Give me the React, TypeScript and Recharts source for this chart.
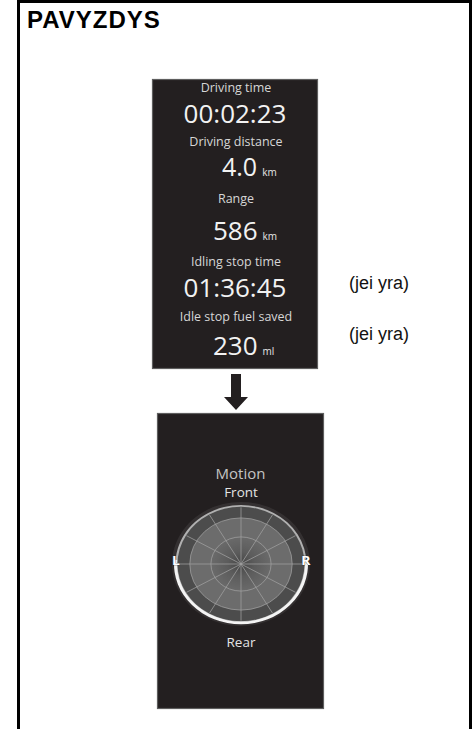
import { PieChart, Pie, RadarChart, PolarGrid, PolarAngleAxis } from 'recharts';

// trip computer page
const tripLabels = ['Driving time', 'Driving distance', 'Range', 'Idling stop time', 'Idle stop fuel saved'];
const tripValues = ['00:02:23', '4.0', '586', '01:36:45', '230'];
const tripUnits = ['', 'km', 'km', '', 'ml'];
const tripNotes = ['', '', '', '(jei yra)', '(jei yra)'];

// motion page: 12 spoke directions (clockwise from front), labels only on the 4 main ones
const motionAngles = ['0', '30', '60', '90', '120', '150', '180', '210', '240', '270', '300', '330'];
const motionDirections = ['Front', '', '', 'R', '', '', 'Rear', '', '', 'L', '', ''];
// ring levels as share of the full scale
const motionLevels = [0.47, 0.8, 1];

const OUTER = 64;
const SIZE = 200;
const C = SIZE / 2;

const labelY = [92, 145.5, 203, 266, 321];
const valueY = [123, 176, 240, 297, 355];

const renderMotionTick = (props: any) => {
  const idx = motionAngles.indexOf(String(props.payload?.value));
  const value = motionDirections[idx];
  if (!value) return <g />;
  let x = C;
  let y = C;
  if (value === 'Front') y = C - 74;
  if (value === 'Rear') y = C + 92;
  if (value === 'L') { x = C - OUTER - 1; y = C + 1; }
  if (value === 'R') { x = C + OUTER + 1; y = C + 1; }
  const small = value === 'L' || value === 'R';
  return (
    <text
      x={x}
      y={y}
      textAnchor="middle"
      fill={small ? '#ffffff' : '#e4e4e4'}
      stroke={small ? '#2a2a2a' : 'none'}
      strokeWidth={small ? 0.6 : 0}
      paintOrder="stroke"
      fontSize={small ? 14 : 13.5}
      fontWeight={small ? 700 : 500}
      fontFamily='"Open Sans", sans-serif'
    >
      {value}
    </text>
  );
};

function MotionChart() {
  const radarData = motionAngles.map((a) => ({ dir: a, v: 1 }));
  const radii = motionLevels.map((l) => l * OUTER);
  const one = [{ value: 1 }];
  return (
    <div
      style={{
        position: 'absolute',
        left: 241 - C,
        top: 564 - C,
        width: SIZE,
        height: SIZE,
        transform: 'scaleY(0.9)',
        transformOrigin: '50% 50%',
      }}
    >
      <div style={{ position: 'absolute', left: 0, top: 0 }}>
        <PieChart width={SIZE} height={SIZE} margin={{ top: 0, right: 0, bottom: 0, left: 0 }}>
          <defs>
            <radialGradient id="core" cx="50%" cy="50%" r="50%">
              <stop offset="0%" stopColor="#454545" />
              <stop offset="45%" stopColor="#5c5c5c" />
              <stop offset="100%" stopColor="#6a6a6a" />
            </radialGradient>
          </defs>
          <Pie data={one} dataKey="value" cx={C} cy={C} innerRadius={OUTER} outerRadius={OUTER + 5} fill="#ffffff" fillOpacity={0.08} stroke="none" isAnimationActive={false} />
          <Pie data={one} dataKey="value" cx={C} cy={C} innerRadius={0} outerRadius={radii[2]} fill="#4c4c4c" stroke="none" isAnimationActive={false} />
          <Pie data={one} dataKey="value" cx={C} cy={C} innerRadius={0} outerRadius={radii[1]} fill="#6c6c6c" stroke="none" isAnimationActive={false} />
          <Pie data={one} dataKey="value" cx={C} cy={C} innerRadius={0} outerRadius={radii[0]} fill="url(#core)" stroke="none" isAnimationActive={false} />
          <Pie data={one} dataKey="value" cx={C} cy={C} innerRadius={OUTER - 0.5} outerRadius={OUTER + 1.5} fill="#b0b0b0" stroke="none" isAnimationActive={false} />
          <Pie data={one} dataKey="value" cx={C} cy={C} startAngle={176} endAngle={364} innerRadius={OUTER} outerRadius={OUTER + 3} fill="#f4f4f4" stroke="none" isAnimationActive={false} />
        </PieChart>
      </div>
      <div style={{ position: 'absolute', left: 0, top: 0 }}>
        <RadarChart
          width={SIZE}
          height={SIZE}
          data={radarData}
          cx={C}
          cy={C}
          outerRadius={OUTER - 1}
          margin={{ top: 0, right: 0, bottom: 0, left: 0 }}
        >
          <PolarGrid gridType="circle" polarRadius={radii.slice(0, 2)} stroke="#a0a0a0" strokeWidth={0.8} />
          <PolarAngleAxis dataKey="dir" axisLine={false} tickLine={false} tick={renderMotionTick} />
        </RadarChart>
      </div>
    </div>
  );
}

export default function App() {
  const panelFont = '"Open Sans", sans-serif';
  return (
    <div style={{ position: 'absolute', left: 0, top: 0, width: 472, height: 729, background: '#fff', overflow: 'hidden' }}>
      <svg width={472} height={729} style={{ position: 'absolute', left: 0, top: 0 }}>
        {/* frame */}
        <path d="M18.5 729 V1.5 H470.5 V729" fill="none" stroke="#000" strokeWidth={3} />
        <text x={27} y={28} fontFamily='"Liberation Sans", Arial, sans-serif' fontWeight="bold" fontSize={24} letterSpacing={1} fill="#000">
          PAVYZDYS
        </text>

        {/* trip panel */}
        <rect x={152.5} y={79.5} width={165} height={289} fill="#231f20" stroke="#5e5e5e" strokeWidth={1.2} />
        {tripLabels.map((l, i) => (
          <text key={l} x={236} y={labelY[i]} textAnchor="middle" fill="#d6d6d6" fontSize={12.5} fontFamily={panelFont}>
            {l}
          </text>
        ))}
        {tripValues.map((v, i) =>
          tripUnits[i] ? (
            <text key={v} x={i === 1 ? 222 : 213} y={valueY[i]} fill="#f2f2f2" fontSize={i === 1 ? 25 : 26} fontFamily={panelFont}>
              {v}
              <tspan dx={5} fontSize={10} fill="#e6e6e6">{tripUnits[i]}</tspan>
            </text>
          ) : (
            <text key={v} x={235} y={valueY[i]} textAnchor="middle" fill="#f2f2f2" fontSize={26} fontFamily={panelFont}>
              {v}
            </text>
          )
        )}
        {tripNotes.map((n, i) =>
          n ? (
            <text key={i} x={349} y={i === 3 ? 289 : 340} fill="#111" fontSize={18} fontFamily='"Liberation Sans", Arial, sans-serif'>
              {n}
            </text>
          ) : null
        )}

        {/* arrow */}
        <polygon points="231,374 241,374 241,397 248,397 236,410 224,397 231,397" fill="#231f20" />

        {/* motion panel */}
        <rect x={157.5} y={413.5} width={166} height={295} fill="#231f20" stroke="#5e5e5e" strokeWidth={1.2} />
        <text x={240.5} y={479} textAnchor="middle" fill="#c4c4c4" fontSize={15} fontFamily={panelFont}>
          Motion
        </text>
      </svg>
      <MotionChart />
    </div>
  );
}
